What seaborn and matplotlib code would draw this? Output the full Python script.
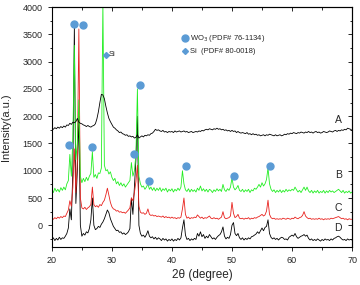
import numpy as np
import seaborn as sns
import matplotlib.pyplot as plt
from matplotlib.ticker import MultipleLocator

# 2theta sampling grid (0.25 deg step), intensities
two_theta = np.linspace(20, 70, 201)

curve_a = [
    1780, 1760, 1790, 1770, 1800, 1780, 1810, 1790,
    1820, 1800, 1840, 1830, 1870, 1850, 1890, 1880,
    1900, 1960, 1890, 1870, 1860, 1840, 1830, 1810,
    1830, 1810, 1800, 1820, 1830, 1860, 1950, 2080,
    2250, 2400, 2390, 2320, 2180, 2060, 1960, 1900,
    1850, 1800, 1780, 1750, 1730, 1700, 1710, 1680,
    1670, 1650, 1660, 1630, 1640, 1620, 1630, 1600,
    1610, 1660, 1600, 1620, 1640, 1620, 1650, 1640,
    1660, 1650, 1680, 1690, 1720, 1760, 1740, 1750,
    1730, 1720, 1740, 1710, 1720, 1700, 1720, 1710,
    1720, 1700, 1730, 1710, 1720, 1730, 1710, 1720,
    1730, 1710, 1720, 1700, 1710, 1720, 1700, 1710,
    1720, 1710, 1730, 1720, 1740, 1730, 1750, 1760,
    1750, 1770, 1760, 1750, 1770, 1760, 1780, 1760,
    1770, 1750, 1760, 1740, 1750, 1730, 1740, 1720,
    1740, 1720, 1730, 1700, 1720, 1700, 1690, 1700,
    1690, 1680, 1700, 1670, 1680, 1660, 1680, 1660,
    1670, 1650, 1660, 1640, 1650, 1660, 1640, 1660,
    1650, 1670, 1660, 1650, 1640, 1660, 1640, 1650,
    1660, 1640, 1650, 1670, 1660, 1680, 1670, 1690,
    1680, 1700, 1690, 1680, 1700, 1690, 1710, 1700,
    1690, 1710, 1700, 1720, 1700, 1710, 1690, 1710,
    1720, 1700, 1710, 1690, 1700, 1720, 1710, 1700,
    1710, 1730, 1720, 1710, 1730, 1740, 1720, 1740,
    1730, 1750, 1740, 1760, 1750, 1780, 1770, 1760,
    1740,
]

curve_b = [
    650, 600, 680, 620, 660, 610, 690, 640,
    700, 650, 760, 820, 1300, 900, 1600, 3300,
    1200, 1500, 2300, 900, 780, 860, 800, 880,
    820, 900, 950, 1350, 880, 930, 860, 960,
    950, 1050, 4100, 1100, 1000, 1020, 940, 980,
    880, 820, 860, 760, 800, 730, 780, 720,
    760, 700, 740, 780, 820, 1150, 900, 1000,
    1300, 2500, 900, 760, 700, 720, 660, 700,
    760, 660, 700, 640, 690, 630, 680, 640,
    690, 620, 670, 640, 680, 610, 660, 630,
    670, 610, 660, 630, 680, 640, 700, 1000,
    760, 650, 620, 670, 610, 660, 620, 650,
    610, 680, 640, 720, 630, 670, 620, 660,
    610, 660, 640, 600, 650, 620, 670, 630,
    660, 620, 750, 650, 620, 670, 640, 700,
    870, 700, 650, 680, 730, 640, 620, 660,
    610, 650, 620, 660, 600, 650, 630, 680,
    660, 700, 750, 700, 780, 720, 760, 840,
    1050, 760, 660, 620, 650, 600, 640, 610,
    650, 600, 640, 610, 660, 620, 650, 630,
    660, 640, 700, 650, 610, 640, 600, 650,
    700, 640, 700, 630, 600, 640, 590, 630,
    600, 640, 590, 620, 600, 640, 590, 630,
    600, 640, 610, 630, 600, 620, 640, 660,
    630, 600, 640, 590, 620, 600, 630, 590,
    610,
]

curve_c = [
    130, 110, 140, 120, 150, 130, 160, 140,
    170, 160, 220, 280, 450, 350, 700, 1400,
    600, 1200, 3600, 500, 320, 300, 330, 290,
    320, 340, 380, 700, 380, 340, 360, 330,
    380, 360, 420, 460, 560, 680, 550, 420,
    340, 300, 290, 260, 270, 240, 250, 230,
    240, 220, 250, 280, 320, 500, 450, 600,
    800, 1100, 350, 240, 220, 230, 200, 220,
    300, 200, 180, 190, 170, 180, 160, 170,
    160, 150, 170, 140, 160, 140, 150, 130,
    150, 130, 140, 120, 140, 130, 150, 300,
    500, 200, 130, 150, 120, 140, 130, 150,
    140, 190, 160, 130, 150, 120, 140, 130,
    150, 170, 130, 120, 140, 120, 130, 110,
    130, 150, 250, 140, 120, 130, 140, 170,
    420, 220, 140, 160, 200, 130, 120, 130,
    110, 130, 120, 140, 110, 130, 120, 140,
    130, 150, 160, 180, 200, 170, 190, 260,
    460, 200, 140, 120, 130, 110, 120, 110,
    120, 110, 130, 120, 110, 130, 120, 110,
    130, 120, 150, 130, 120, 140, 150, 180,
    250, 170, 140, 120, 130, 110, 120, 110,
    120, 110, 130, 110, 120, 100, 120, 110,
    120, 110, 130, 120, 130, 140, 150, 160,
    140, 120, 130, 110, 120, 100, 120, 110,
    110,
]

curve_d = [
    -260, -230, -280, -240, -270, -220, -260, -230,
    -240, -200, -150, -50, 300, 100, 1000, 3650,
    400, 1000, 2000, 0, -200, -150, -180, -120,
    -140, -60, 100, 500, 0, -80, -60, -20,
    -40, 20, 60, 120, 200, 280, 230, 120,
    50, -20, -60, -100, -90, -130, -120, -160,
    -140, -170, -150, -120, -60, 500, 200, 700,
    1200, 2000, 0, -150, -200, -180, -220, -170,
    -100, -200, -230, -210, -250, -220, -260, -230,
    -250, -280, -240, -270, -250, -290, -260, -280,
    -250, -290, -260, -280, -240, -270, -230, -50,
    100, -180, -260, -240, -280, -250, -270, -240,
    -260, -150, -200, -120, -210, -170, -240, -200,
    -230, -170, -210, -250, -230, -260, -220, -190,
    -170, -120, -30, -200, -250, -220, -240, -170,
    0, 50, -150, -190, -150, -230, -260, -230,
    -270, -240, -260, -230, -250, -210, -200, -180,
    -160, -120, -150, -100, -50, -100, -40, -20,
    100, -150, -220, -250, -230, -260, -240, -270,
    -240, -220, -230, -260, -250, -270, -220, -200,
    -180, -200, -150, -210, -240, -220, -200, -190,
    -170, -200, -180, -240, -270, -250, -280, -260,
    -280, -250, -270, -290, -260, -280, -250, -270,
    -260, -280, -250, -270, -240, -230, -210, -200,
    -220, -250, -270, -260, -280, -250, -270, -260,
    -270,
]

# peak markers
wo3_x = [22.9, 23.7, 25.2, 26.7, 33.7, 34.7, 36.2, 42.3, 50.3, 56.3]
wo3_y = [1470, 3690, 3670, 1430, 1300, 2570, 810, 1085, 900, 1085]
si_x = [29.0]
si_y = [3130]

curve_names = ["A", "B", "C", "D"]
name_y = [1925, 915, 310, -55]

sns.set_style("white")
plt.rcParams['font.family'] = ['Liberation Sans', 'DejaVu Sans']

fig = plt.figure(figsize=(3.6, 2.85), dpi=100)
ax = fig.add_axes([0.144, 0.133, 0.834, 0.842])

lw = 0.6
sns.lineplot(x=two_theta, y=curve_d, color="black", linewidth=lw, ax=ax)
sns.lineplot(x=two_theta, y=curve_c, color="#e8221e", linewidth=lw, ax=ax)
sns.lineplot(x=two_theta, y=curve_b, color="#22ee22", linewidth=lw, ax=ax)
sns.lineplot(x=two_theta, y=curve_a, color="black", linewidth=lw, ax=ax)

blue = "#5b9bd5"
ax.plot(wo3_x, wo3_y, "o", color=blue, markersize=5, linestyle="none")
ax.plot(si_x, si_y, "D", color=blue, markersize=3, linestyle="none")
ax.text(29.5, si_y[0], "Si", fontsize=5.5, va="center")

# legend drawn as text like the original
ax.plot([42.2], [3430], "o", color=blue, markersize=5)
ax.text(43.0, 3430, "WO$_3$ (PDF# 76-1134)", fontsize=5.5, va="center")
ax.plot([42.2], [3190], "D", color=blue, markersize=3)
ax.text(43.0, 3190, "Si  (PDF# 80-0018)", fontsize=5.5, va="center")

for name, yy in zip(curve_names, name_y):
    ax.text(67.7, yy, name, fontsize=7.5, ha="center", va="center")

ax.set_xlim(20, 70)
ax.set_ylim(-400, 4000)
ax.xaxis.set_major_locator(MultipleLocator(10))
ax.xaxis.set_minor_locator(MultipleLocator(5))
ax.yaxis.set_major_locator(MultipleLocator(500))
ax.yaxis.set_minor_locator(MultipleLocator(250))
ax.tick_params(which="both", direction="out", labelsize=6.5, width=0.7,
               left=True, bottom=True)
ax.tick_params(which="major", length=3)
ax.tick_params(which="minor", length=1.8)

top = ax.secondary_xaxis("top")
top.xaxis.set_major_locator(MultipleLocator(10))
top.xaxis.set_minor_locator(MultipleLocator(5))
top.tick_params(which="both", direction="in", labeltop=False, width=0.7)
top.tick_params(which="major", length=3)
top.tick_params(which="minor", length=1.8)
right = ax.secondary_yaxis("right")
right.yaxis.set_major_locator(MultipleLocator(500))
right.yaxis.set_minor_locator(MultipleLocator(250))
right.tick_params(which="both", direction="in", labelright=False, width=0.7)
right.tick_params(which="major", length=3)
right.tick_params(which="minor", length=1.8)

for sp in ax.spines.values():
    sp.set_linewidth(0.8)
    sp.set_color("black")

ax.set_xlabel("2θ (degree)", fontsize=8.5, labelpad=3)
ax.set_ylabel("Intensity(a.u.)", fontsize=8)
ax.yaxis.set_label_coords(-0.135, 0.5)

fig.savefig("out.png", dpi=100)
